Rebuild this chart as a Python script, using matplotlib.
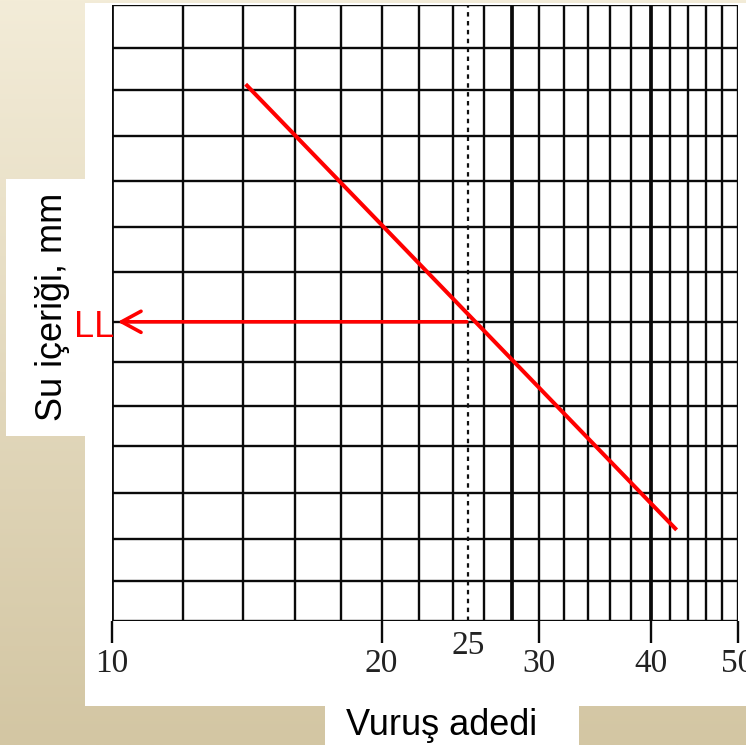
import numpy as np
import matplotlib
matplotlib.use("Agg")
import matplotlib.pyplot as plt
from matplotlib.patches import Rectangle

# vertical grid lines (blow counts), thick ones and labelled ticks
grid_n = [10, 12, 14, 16, 18, 20, 22, 24, 26, 28, 30,
          32, 34, 36, 38, 40, 42, 44, 46, 48, 50]
thick_n = [10, 28, 40]
tick_n = [10, 20, 30, 40, 50]
tick_labels = ["10", "20", "30", "40", "50"]

# horizontal grid lines (water content, arbitrary units)
grid_w = [0.0, 0.91, 1.86, 2.91, 3.98, 4.89, 5.89, 6.80,
          7.93, 8.95, 10.0, 11.02, 12.07, 13.02, 14.0]

# flow curve and liquid limit
flow_n = [14.1, 42.7]
flow_w = [12.2, 2.07]
n_ll = 25
w_ll = 6.80

W, H = 746, 745
fig = plt.figure(figsize=(W / 100, H / 100), dpi=100)


def fx(px):
    return px / W


def fy(py):
    return 1 - py / H


# beige gradient background
bg = fig.add_axes([0, 0, 1, 1])
top = np.array([243, 236, 216]) / 255
bot = np.array([211, 198, 163]) / 255
t = np.linspace(0, 1, 256)[:, None]
grad = top[None, :] * (1 - t) + bot[None, :] * t
bg.imshow(grad[:, None, :], aspect="auto", extent=[0, 1, 0, 1])
bg.set_xlim(0, 1)
bg.set_ylim(0, 1)
bg.axis("off")

# white panels
for x0, y0, x1, y1 in [(85, 3, 746, 706), (6, 179, 85, 436), (325, 706, 579, 745)]:
    bg.add_patch(Rectangle((fx(x0), fy(y1)), fx(x1) - fx(x0), fy(y0) - fy(y1),
                           facecolor="white", edgecolor="none"))

ax = fig.add_axes([fx(112), fy(621), fx(738) - fx(112), fy(5) - fy(621)])
ax.set_facecolor("none")
ax.set_xscale("log")
ax.set_xlim(10, 50)
ax.set_ylim(0, 14)

for n in grid_n:
    lw = 2.7 if n in thick_n else 1.7
    ax.axvline(n, color="#0a0a0a", lw=lw, zorder=1)
for w in grid_w:
    ax.axhline(w, color="#0a0a0a", lw=1.7, zorder=1)

ax.axvline(n_ll, color="#111111", lw=1.6, ls=(0, (2, 2)), zorder=1)

for s in ax.spines.values():
    s.set_visible(False)

ax.set_xticks(tick_n)
ax.set_xticklabels(tick_labels)
ax.xaxis.set_minor_locator(matplotlib.ticker.NullLocator())
ax.set_yticks([])
ax.tick_params(axis="x", direction="out", length=16, width=1.7, color="#0a0a0a",
               pad=4, labelsize=24, labelcolor="#222222")
for lab in ax.get_xticklabels():
    lab.set_family("Liberation Serif")

ax.annotate("25", xy=(n_ll, 0), xytext=(0, -7), textcoords="offset points",
            ha="center", va="top", fontsize=24, color="#222222",
            family="Liberation Serif", annotation_clip=False)

ax.plot(flow_n, flow_w, color="#ff0000", lw=2.9, solid_capstyle="butt", zorder=3)
ax.annotate("", xy=(10.15, w_ll), xytext=(24.9, w_ll),
            arrowprops=dict(arrowstyle="->,head_length=0.7,head_width=0.38",
                            mutation_scale=20, color="#ff0000", lw=2.6,
                            shrinkA=0, shrinkB=0), zorder=3)

fig.text(fx(114), fy(337), "LL", ha="right", va="baseline", fontsize=26,
         color="#ff0000", family="Liberation Sans")
fig.text(fx(62), fy(307), "Su içeriği, mm", rotation=90, rotation_mode="anchor",
         ha="center", va="baseline", fontsize=26, color="black",
         family="Liberation Sans")
fig.text(fx(442), fy(735), "Vuruş adedi", ha="center", va="baseline",
         fontsize=26, color="black", family="Liberation Sans")

fig.savefig("out.png", dpi=100)
